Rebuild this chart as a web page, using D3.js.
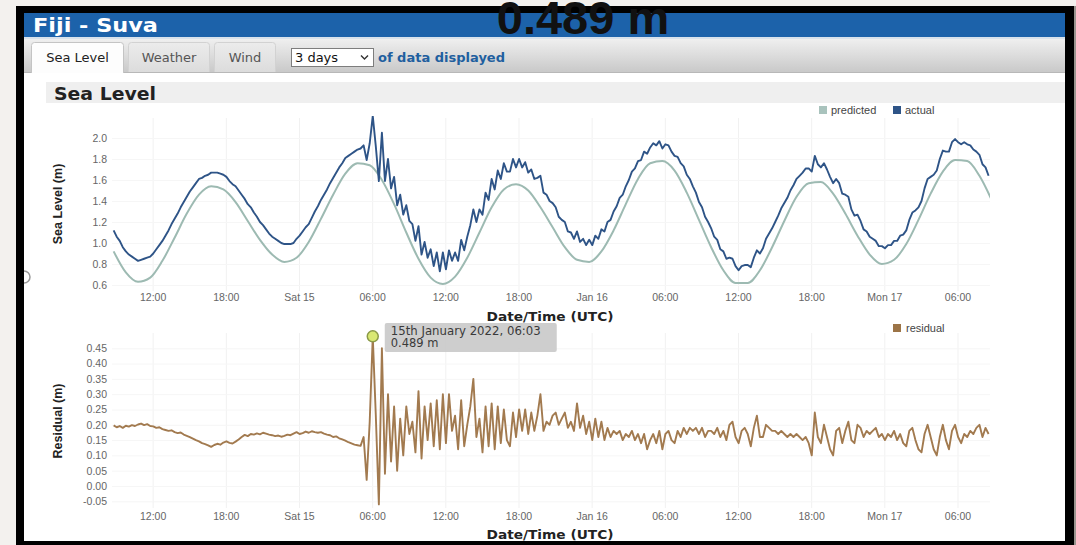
<!DOCTYPE html>
<html><head><meta charset="utf-8">
<script src="https://cdn.jsdelivr.net/npm/d3@7"></script>
<style>
html,body{margin:0;padding:0;background:#f3f1ee;overflow:hidden;}
svg{display:block;}
</style></head><body>
<svg id="c" width="1076" height="545"></svg>
<script>
// ---------------- data ----------------
const stationTitle = "Fiji - Suva";
const tabLabels = ["Sea Level", "Weather", "Wind"];
const rangeOption = "3 days";
const rangeSuffix = "of data displayed";
const sectionTitle = "Sea Level";
const xAxisTitle = "Date/Time (UTC)";
const seaLevelAxisTitle = "Sea Level (m)";
const residualAxisTitle = "Residual (m)";
const seaLevelLegend = ["predicted", "actual"];
const residualLegend = ["residual"];
const xTickLabels = ["12:00","18:00","Sat 15","06:00","12:00","18:00","Jan 16","06:00","12:00","18:00","Mon 17","06:00"];
const xTickTimes = [
  Date.UTC(2022,0,14,12), Date.UTC(2022,0,14,18), Date.UTC(2022,0,15,0), Date.UTC(2022,0,15,6),
  Date.UTC(2022,0,15,12), Date.UTC(2022,0,15,18), Date.UTC(2022,0,16,0), Date.UTC(2022,0,16,6),
  Date.UTC(2022,0,16,12), Date.UTC(2022,0,16,18), Date.UTC(2022,0,17,0), Date.UTC(2022,0,17,6)];
const seaLevelTicks = [0.6, 0.8, 1.0, 1.2, 1.4, 1.6, 1.8, 2.0];
const residualTicks = [-0.05, 0.00, 0.05, 0.10, 0.15, 0.20, 0.25, 0.30, 0.35, 0.40, 0.45];
const viewStart = Date.UTC(2022,0,14,8,40);
const viewEnd = Date.UTC(2022,0,17,8,40);
const seriesStart = Date.UTC(2022,0,14,8,48);
const predictedStepMin = 60;   // hourly predicted tide
const observedStepMin = 15;    // 15-minute actual / residual

const predicted = [0.92,0.72,0.63,0.67,0.83,1.05,1.28,1.46,1.54,1.51,1.39,1.21,1.03,0.89,0.82,0.86,1.01,1.23,1.46,1.66,1.76,1.74,1.60,1.37,1.10,0.85,0.67,0.61,0.68,0.86,1.10,1.34,1.51,1.56,1.50,1.34,1.15,0.96,0.84,0.82,0.92,1.12,1.37,1.61,1.76,1.78,1.69,1.48,1.22,0.96,0.74,0.62,0.62,0.74,0.96,1.21,1.44,1.57,1.58,1.47,1.28,1.07,0.89,0.80,0.84,0.99,1.22,1.47,1.68,1.79,1.78,1.64,1.41];

const actual = [
1.12,1.06,1.02,0.96, 0.92,0.89,0.87,0.85, 0.83,0.84,0.85,0.86, 0.87,0.90,0.94,0.98,
1.02,1.07,1.12,1.18, 1.23,1.28,1.34,1.39, 1.44,1.49,1.53,1.57, 1.61,1.62,1.64,1.65,
1.67,1.67,1.67,1.66, 1.65,1.63,1.59,1.56, 1.54,1.50,1.46,1.42, 1.37,1.34,1.29,1.25,
1.20,1.17,1.13,1.09, 1.06,1.04,1.02,1.00, 0.99,0.99,0.99,1.00, 1.04,1.07,1.11,1.15,
1.18,1.24,1.30,1.35, 1.41,1.46,1.51,1.57, 1.62,1.67,1.72,1.76, 1.81,1.83,1.85,1.87,
1.89,1.90,1.93,1.79, 1.95,2.21,1.92,1.59, 2.05,1.59,1.80,1.52, 1.63,1.36,1.46,1.27,
1.36,1.21,1.18,1.02, 1.16,0.89,1.01,0.86, 0.94,0.78,0.91,0.73, 0.91,0.75,0.93,0.83,
0.91,0.83,1.03,0.93, 1.06,1.17,1.32,1.20, 1.32,1.27,1.48,1.41, 1.61,1.51,1.69,1.61,
1.76,1.68,1.68,1.80, 1.72,1.80,1.72,1.77, 1.67,1.70,1.61,1.62, 1.64,1.48,1.46,1.40,
1.38,1.34,1.25,1.22, 1.20,1.11,1.10,1.04, 1.11,1.01,1.04,0.98, 1.03,0.98,1.07,1.04,
1.13,1.11,1.20,1.22, 1.30,1.35,1.43,1.46, 1.54,1.60,1.68,1.71, 1.78,1.79,1.87,1.85,
1.91,1.95,1.93,1.97, 1.90,1.94,1.93,1.87, 1.83,1.82,1.76,1.73, 1.65,1.61,1.54,1.48,
1.39,1.34,1.25,1.20, 1.14,1.06,1.03,0.94, 0.92,0.85,0.86,0.85, 0.78,0.74,0.78,0.79,
0.79,0.77,0.86,0.93, 0.90,0.95,1.04,1.09, 1.14,1.20,1.26,1.33, 1.38,1.43,1.50,1.55,
1.61,1.64,1.67,1.71, 1.71,1.68,1.83,1.75, 1.72,1.76,1.70,1.63, 1.57,1.61,1.57,1.47,
1.46,1.44,1.32,1.26, 1.27,1.21,1.13,1.11, 1.06,1.04,1.02,0.97, 0.97,0.95,0.98,0.98,
1.02,1.02,1.07,1.08, 1.12,1.22,1.29,1.31, 1.34,1.40,1.52,1.61, 1.63,1.65,1.69,1.80,
1.88,1.87,1.87,1.96, 1.99,1.96,1.94,1.96, 1.94,1.93,1.89,1.87, 1.84,1.75,1.72,1.64];

const residual = [
0.198,0.192,0.196,0.190, 0.197,0.194,0.199,0.196, 0.201,0.204,0.199,0.202, 0.196,0.195,0.190,0.192,
0.186,0.183,0.180,0.182, 0.176,0.173,0.175,0.168, 0.164,0.160,0.155,0.150, 0.146,0.140,0.137,0.133,
0.128,0.134,0.138,0.135, 0.142,0.146,0.141,0.139, 0.145,0.152,0.160,0.167, 0.163,0.170,0.168,0.172,
0.169,0.174,0.171,0.168, 0.166,0.163,0.165,0.161, 0.164,0.168,0.166,0.171, 0.176,0.170,0.173,0.178,
0.174,0.179,0.176,0.174, 0.176,0.171,0.168,0.166, 0.160,0.162,0.156,0.152, 0.148,0.143,0.139,0.135,
0.133,0.131,0.160,0.020, 0.210,0.489,0.230,-0.060, 0.450,0.040,0.300,0.080, 0.260,0.050,0.220,0.100,
0.260,0.170,0.210,0.110, 0.310,0.090,0.260,0.150, 0.270,0.130,0.280,0.120, 0.300,0.140,0.300,0.180,
0.230,0.120,0.280,0.130, 0.200,0.260,0.350,0.160, 0.220,0.110,0.260,0.130, 0.270,0.120,0.260,0.140,
0.250,0.150,0.130,0.240, 0.160,0.250,0.180,0.250, 0.170,0.240,0.180,0.230, 0.300,0.180,0.210,0.200,
0.230,0.240,0.200,0.220, 0.240,0.190,0.210,0.180, 0.270,0.190,0.230,0.170, 0.210,0.150,0.220,0.160,
0.210,0.150,0.190,0.160, 0.180,0.170,0.180,0.150, 0.170,0.160,0.180,0.150, 0.170,0.140,0.170,0.120,
0.150,0.170,0.140,0.180, 0.120,0.170,0.180,0.150, 0.140,0.180,0.160,0.190, 0.170,0.190,0.180,0.190,
0.170,0.190,0.160,0.180, 0.180,0.170,0.190,0.160, 0.180,0.150,0.200,0.210, 0.160,0.140,0.180,0.190,
0.170,0.130,0.190,0.230, 0.160,0.160,0.200,0.190, 0.180,0.180,0.170,0.180, 0.170,0.160,0.170,0.160,
0.170,0.160,0.150,0.160, 0.140,0.100,0.240,0.160, 0.140,0.200,0.160,0.120, 0.100,0.180,0.190,0.140,
0.180,0.210,0.150,0.140, 0.200,0.190,0.160,0.180, 0.170,0.180,0.190,0.160, 0.170,0.150,0.170,0.160,
0.180,0.150,0.170,0.140, 0.130,0.180,0.190,0.150, 0.120,0.110,0.170,0.200, 0.160,0.120,0.100,0.160,
0.200,0.150,0.120,0.180, 0.200,0.160,0.140,0.170, 0.160,0.180,0.170,0.190, 0.200,0.160,0.190,0.170];

const highlightTime = Date.UTC(2022,0,15,6,3);
const highlightValue = 0.489;

// ---------------- drawing ----------------
const svg = d3.select("#c");
const W = 1076, H = 545;
const uiFont = "'DejaVu Sans', Verdana, sans-serif";
const chartFont = "'Liberation Sans', Arial, sans-serif";

const defs = svg.append("defs");
const tb = defs.append("linearGradient").attr("id","tb").attr("x1",0).attr("y1",0).attr("x2",0).attr("y2",1);
tb.append("stop").attr("offset","0%").attr("stop-color","#efefef");
tb.append("stop").attr("offset","100%").attr("stop-color","#c8c8c8");
const tabG = defs.append("linearGradient").attr("id","tabg").attr("x1",0).attr("y1",0).attr("x2",0).attr("y2",1);
tabG.append("stop").attr("offset","0%").attr("stop-color","#ececec");
tabG.append("stop").attr("offset","100%").attr("stop-color","#dcdcdc");

svg.append("rect").attr("width",W).attr("height",H).attr("fill","#f3f1ee");
svg.append("rect").attr("x",1074).attr("y",6).attr("width",2).attr("height",H).attr("fill","#9a958f");
// page
svg.append("rect").attr("x",24).attr("y",13).attr("width",1041).attr("height",528).attr("fill","#fff");
// title bar
svg.append("rect").attr("x",24).attr("y",13).attr("width",1041).attr("height",24).attr("fill","#1c62aa");
svg.append("rect").attr("x",24).attr("y",37).attr("width",1041).attr("height",2).attr("fill","#d8e2ec");
svg.append("text").attr("x",33).attr("y",32).attr("fill","#fff")
  .attr("textLength",125).attr("lengthAdjust","spacingAndGlyphs")
  .style("font",`bold 19px ${uiFont}`).text(stationTitle);
// toolbar
svg.append("rect").attr("x",24).attr("y",39).attr("width",1041).attr("height",34).attr("fill","url(#tb)");
svg.append("line").attr("x1",24).attr("x2",1065).attr("y1",72.5).attr("y2",72.5).attr("stroke","#b8b8b8");
const tabBoxes = [[31,93],[128,82],[214,62]];
tabLabels.forEach((t,i)=>{
  const [tx,tw] = tabBoxes[i];
  const active = i===0;
  svg.append("path")
    .attr("d",`M${tx+0.5},${active?73:72} V${45.5} Q${tx+0.5},42.5 ${tx+3.5},42.5 H${tx+tw-3.5} Q${tx+tw-0.5},42.5 ${tx+tw-0.5},45.5 V${active?73:72}`)
    .attr("fill", active ? "#fdfdfd" : "url(#tabg)")
    .attr("stroke", active ? "#c4c4c4" : "#d2d2d2");
  svg.append("text").attr("x",tx+tw/2).attr("y",62).attr("text-anchor","middle")
    .attr("fill", active ? "#222" : "#555").style("font",`13px ${uiFont}`).text(t);
});
// select
svg.append("rect").attr("x",291.5).attr("y",48.5).attr("width",82).attr("height",18)
  .attr("fill","#fff").attr("stroke","#7d7d7d");
svg.append("text").attr("x",295).attr("y",62).attr("fill","#111").style("font",`13px ${uiFont}`).text(rangeOption);
svg.append("path").attr("d","M361,55.5 L364.5,59 L368,55.5").attr("fill","none").attr("stroke","#333").attr("stroke-width",1.4);
svg.append("text").attr("x",378).attr("y",62).attr("fill","#1f5f9f")
  .attr("textLength",127).attr("lengthAdjust","spacingAndGlyphs")
  .style("font",`bold 12.5px ${uiFont}`).text(rangeSuffix);
// section header
svg.append("rect").attr("x",46).attr("y",82).attr("width",1019).attr("height",21).attr("fill","#efefef");
svg.append("text").attr("x",54).attr("y",99.5).attr("fill","#222")
  .attr("textLength",102).attr("lengthAdjust","spacingAndGlyphs")
  .style("font",`bold 17.5px ${uiFont}`).text(sectionTitle);

// scales
const x = d3.scaleUtc().domain([viewStart, viewEnd]).range([112, 990]);
const y1 = d3.scaleLinear().domain([0.6, 2.0]).range([285, 138]);
const y2 = d3.scaleLinear().domain([0, 0.45]).range([486, 348.3]);
const plot1 = {top:118, bottom:291};
const plot2 = {top:333, bottom:508};

function grid(p, yScale, ticks){
  const gv = svg.append("g").attr("transform",`translate(0,${p.bottom})`)
    .call(d3.axisBottom(x).tickValues(xTickTimes).tickSize(-(p.bottom-p.top)).tickFormat(""));
  gv.select(".domain").remove();
  gv.selectAll("line").attr("stroke","#f1f1f1");
  const gh = svg.append("g").attr("transform",`translate(112,0)`)
    .call(d3.axisLeft(yScale).tickValues(ticks).tickSize(-878).tickFormat(""));
  gh.select(".domain").remove();
  gh.selectAll("line").attr("stroke","#f6f6f6");
}
function xAxis(yPos){
  const g = svg.append("g").attr("transform",`translate(0,${yPos})`)
    .call(d3.axisBottom(x).tickValues(xTickTimes).tickFormat((d,i)=>xTickLabels[i]).tickSize(0).tickPadding(0));
  g.select(".domain").remove();
  g.selectAll("text").attr("fill","#666").style("font",`10.5px ${chartFont}`);
}
function yAxis(scale, ticks, fmt){
  const g = svg.append("g").attr("transform",`translate(112,0)`)
    .call(d3.axisLeft(scale).tickValues(ticks).tickFormat(fmt).tickSize(0).tickPadding(5));
  g.select(".domain").remove();
  g.selectAll("text").attr("fill","#666").style("font",`10.5px ${chartFont}`);
}
function clip(id,p){
  defs.append("clipPath").attr("id",id).append("rect")
    .attr("x",112).attr("y",p.top-2).attr("width",878).attr("height",p.bottom-p.top+4);
}

// ----- sea level chart -----
grid(plot1, y1, seaLevelTicks);
clip("c1", plot1);
const tPred = (d,i)=> x(seriesStart + i*predictedStepMin*60000);
const tObs = (d,i)=> x(seriesStart + i*observedStepMin*60000);
const g1 = svg.append("g").attr("clip-path","url(#c1)");
g1.append("path").datum(predicted)
  .attr("d", d3.line().x(tPred).y(d=>y1(d)).curve(d3.curveMonotoneX))
  .attr("fill","none").attr("stroke","#9dbab2").attr("stroke-width",2);
g1.append("path").datum(actual)
  .attr("d", d3.line().x(tObs).y(d=>y1(d)))
  .attr("fill","none").attr("stroke","#2e5487").attr("stroke-width",1.9).attr("stroke-linejoin","round");
yAxis(y1, seaLevelTicks, d3.format(".1f"));
xAxis(293.5);
svg.append("text").attr("x",550).attr("y",320.5).attr("text-anchor","middle").attr("fill","#222")
  .attr("textLength",127).attr("lengthAdjust","spacingAndGlyphs")
  .style("font",`bold 13px ${uiFont}`).text(xAxisTitle);
svg.append("text").attr("transform","translate(62,204) rotate(-90)").attr("text-anchor","middle").attr("fill","#222")
  .style("font",`bold 12.5px ${chartFont}`).text(seaLevelAxisTitle);
const legCols1 = ["#a9c3bd","#2e5487"];
const legX1 = [819, 893];
seaLevelLegend.forEach((t,i)=>{
  svg.append("rect").attr("x",legX1[i]).attr("y",106).attr("width",8).attr("height",8).attr("fill",legCols1[i]);
  svg.append("text").attr("x",legX1[i]+12).attr("y",114).attr("fill","#444").style("font",`11px ${chartFont}`).text(t);
});

// ----- residual chart -----
grid(plot2, y2, residualTicks);
clip("c2", plot2);
const g2 = svg.append("g").attr("clip-path","url(#c2)");
g2.append("path").datum(residual)
  .attr("d", d3.line().x(tObs).y(d=>y2(d)))
  .attr("fill","none").attr("stroke","#a27a4f").attr("stroke-width",1.9).attr("stroke-linejoin","round");
yAxis(y2, residualTicks, d=>d.toFixed(2));
xAxis(512.5);
svg.append("text").attr("x",550).attr("y",539).attr("text-anchor","middle").attr("fill","#222")
  .attr("textLength",127).attr("lengthAdjust","spacingAndGlyphs")
  .style("font",`bold 13px ${uiFont}`).text(xAxisTitle);
svg.append("text").attr("transform","translate(62,421) rotate(-90)").attr("text-anchor","middle").attr("fill","#222")
  .style("font",`bold 12.5px ${chartFont}`).text(residualAxisTitle);
svg.append("rect").attr("x",893).attr("y",324).attr("width",8).attr("height",8).attr("fill","#9c7447");
svg.append("text").attr("x",906).attr("y",332).attr("fill","#444").style("font",`11px ${chartFont}`).text(residualLegend[0]);

// highlight + tooltip
const hx = x(highlightTime), hy = y2(highlightValue);
const ord = n => n + (n%10===1&&n!==11?"st":n%10===2&&n!==12?"nd":n%10===3&&n!==13?"rd":"th");
const hDate = new Date(highlightTime);
const tipLine1 = ord(hDate.getUTCDate()) + " " + d3.utcFormat("%B %Y, %H:%M")(hDate);
const tipLine2 = d3.format(".3f")(highlightValue) + " m";
svg.append("rect").attr("x",hx+12).attr("y",323).attr("width",172).attr("height",29).attr("rx",2)
  .attr("fill","#c9c9c9").attr("fill-opacity",0.9);
svg.append("text").attr("x",hx+18).attr("y",335).attr("fill","#3a3a3a")
  .attr("textLength",150).attr("lengthAdjust","spacingAndGlyphs")
  .style("font",`11.5px ${uiFont}`).text(tipLine1);
svg.append("text").attr("x",hx+18).attr("y",347).attr("fill","#3a3a3a").style("font",`11.5px ${uiFont}`).text(tipLine2);
svg.append("circle").attr("cx",hx).attr("cy",hy).attr("r",5.5).attr("fill","#d9e873").attr("stroke","#8b9a48").attr("stroke-width",1.5);

// frame (drawn on top)
svg.append("path").attr("fill-rule","evenodd").attr("fill","#000")
  .attr("d",`M16,6 H1074 V545 H16 Z M24,13 V541 H1065 V13 Z`);
// side handle
svg.append("path").attr("d","M24,271 A6,6 0 0 1 24,283").attr("fill","#fff").attr("stroke","#999").attr("stroke-width",1.5);
// headline value
svg.append("text").attr("x",583).attr("y",34).attr("text-anchor","middle").attr("fill","#111")
  .style("font",`bold 47px ${chartFont}`).text(d3.format(".3f")(highlightValue) + " m");
</script>
</body></html>
